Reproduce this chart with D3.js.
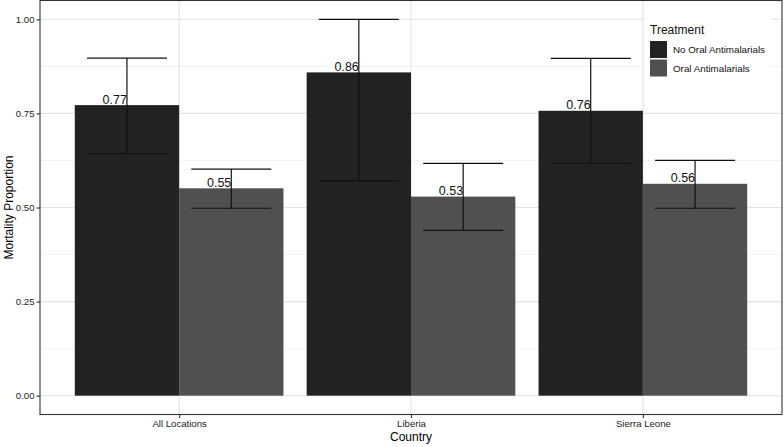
<!DOCTYPE html>
<html>
<head>
<meta charset="utf-8">
<script src="https://cdn.jsdelivr.net/npm/d3@7"></script>
<style>
  body { margin: 0; background: #fff; }
  text { font-family: "Liberation Sans", Arial, sans-serif; }
</style>
</head>
<body>
<script>
// data
var countries = ["All Locations", "Liberia", "Sierra Leone"];
var treatments = ["No Oral Antimalarials", "Oral Antimalarials"];
var noOral     = [0.772, 0.859, 0.757];
var noOralLow  = [0.643, 0.571, 0.617];
var noOralHigh = [0.897, 1.000, 0.896];
var oral       = [0.551, 0.529, 0.563];
var oralLow    = [0.498, 0.439, 0.498];
var oralHigh   = [0.602, 0.617, 0.625];
var yTicks = [0, 0.25, 0.5, 0.75, 1];
var yMinor = [0.125, 0.375, 0.625, 0.875];

// build rows
var rows = [];
countries.forEach(function(c, i) {
    rows.push({country: c, treat: treatments[0], value: noOral[i], lo: noOralLow[i], hi: noOralHigh[i]});
    rows.push({country: c, treat: treatments[1], value: oral[i], lo: oralLow[i], hi: oralHigh[i]});
});

var W = 784, H = 447;
var panel = {left: 40, top: 0.5, right: 782, bottom: 414.5};

var svg = d3.select("body").append("svg")
    .attr("width", W)
    .attr("height", H);

// scales (ggplot-ish expansion)
var x = d3.scalePoint().domain(countries).range([panel.left, panel.right]).padding(0.6);
var step = x.step();
var xInner = d3.scaleBand().domain(treatments).range([-0.45 * step, 0.45 * step]);
var y = d3.scaleLinear().domain([-0.05, 1.05]).range([panel.bottom, panel.top]);
var color = d3.scaleOrdinal().domain(treatments).range(["#222222", "#505050"]);

// grid
var grid = svg.append("g");
grid.selectAll(".minor").data(yMinor).enter().append("line")
    .attr("x1", panel.left).attr("x2", panel.right)
    .attr("y1", function(d) { return y(d); }).attr("y2", function(d) { return y(d); })
    .attr("stroke", "#ebebeb").attr("stroke-width", 0.6);
grid.selectAll(".major").data(yTicks).enter().append("line")
    .attr("x1", panel.left).attr("x2", panel.right)
    .attr("y1", function(d) { return y(d); }).attr("y2", function(d) { return y(d); })
    .attr("stroke", "#e3e3e3").attr("stroke-width", 1.1);
grid.selectAll(".vmajor").data(countries).enter().append("line")
    .attr("x1", function(d) { return x(d); }).attr("x2", function(d) { return x(d); })
    .attr("y1", panel.top).attr("y2", panel.bottom)
    .attr("stroke", "#e3e3e3").attr("stroke-width", 1.1);

// bars
svg.selectAll(".bar").data(rows).enter().append("rect")
    .attr("x", function(d) { return x(d.country) + xInner(d.treat); })
    .attr("width", xInner.bandwidth())
    .attr("y", function(d) { return y(d.value); })
    .attr("height", function(d) { return y(0) - y(d.value); })
    .attr("fill", function(d) { return color(d.treat); });

// value labels
svg.selectAll(".lab").data(rows).enter().append("text")
    .attr("x", function(d) { return x(d.country) + xInner(d.treat) + xInner.bandwidth() / 2; })
    .attr("y", function(d) { return y(d.value) - 1.5; })
    .attr("text-anchor", "end")
    .attr("font-size", "12.5px")
    .attr("fill", "#111")
    .text(function(d) { return d3.format(".2f")(d.value); });

// error bars
var ew = 0.345 * step / 2;
var eb = svg.selectAll(".err").data(rows).enter().append("g")
    .attr("stroke", "#111").attr("stroke-width", 1.2);
eb.append("line")
    .attr("x1", function(d) { return x(d.country) + xInner(d.treat) + xInner.bandwidth() / 2; })
    .attr("x2", function(d) { return x(d.country) + xInner(d.treat) + xInner.bandwidth() / 2; })
    .attr("y1", function(d) { return y(d.lo); })
    .attr("y2", function(d) { return y(d.hi); });
["lo", "hi"].forEach(function(k) {
    eb.append("line")
        .attr("x1", function(d) { return x(d.country) + xInner(d.treat) + xInner.bandwidth() / 2 - ew; })
        .attr("x2", function(d) { return x(d.country) + xInner(d.treat) + xInner.bandwidth() / 2 + ew; })
        .attr("y1", function(d) { return y(d[k]); })
        .attr("y2", function(d) { return y(d[k]); });
});

// legend (inside panel, top right)
var lg = svg.append("g").attr("transform", "translate(645,6)");
lg.append("rect").attr("width", 126).attr("height", 92).attr("fill", "#fff");
lg.append("text").attr("x", 5).attr("y", 28).attr("font-size", "12px").attr("fill", "#111").text("Treatment");
treatments.forEach(function(t, i) {
    lg.append("rect").attr("x", 5).attr("y", 35 + i * 18.5).attr("width", 17).attr("height", 17)
        .attr("fill", color(t));
    lg.append("text").attr("x", 28).attr("y", 47 + i * 18.5).attr("font-size", "9.8px").attr("fill", "#111").text(t);
});

// panel border
svg.append("rect")
    .attr("x", panel.left).attr("y", panel.top)
    .attr("width", panel.right - panel.left).attr("height", panel.bottom - panel.top)
    .attr("fill", "none").attr("stroke", "#333").attr("stroke-width", 1.1);

// axes
var yAxis = svg.append("g")
    .attr("transform", "translate(" + panel.left + ",0)")
    .call(d3.axisLeft(y).tickValues(yTicks).tickFormat(d3.format(".2f")).tickSize(3.5).tickPadding(2));
var xAxis = svg.append("g")
    .attr("transform", "translate(0," + panel.bottom + ")")
    .call(d3.axisBottom(x).tickSize(3.5).tickPadding(2));
[yAxis, xAxis].forEach(function(a) {
    a.select(".domain").remove();
    a.selectAll(".tick line").attr("stroke", "#333").attr("stroke-width", 1.1);
    a.selectAll(".tick text").attr("fill", "#222").attr("font-size", "9.6px")
        .attr("font-family", "Liberation Sans, Arial, sans-serif");
});

// axis titles
svg.append("text")
    .attr("x", (panel.left + panel.right) / 2)
    .attr("y", 441)
    .attr("text-anchor", "middle")
    .attr("font-size", "12px")
    .text("Country");
svg.append("text")
    .attr("transform", "rotate(-90)")
    .attr("x", -(panel.top + panel.bottom) / 2)
    .attr("y", 13)
    .attr("text-anchor", "middle")
    .attr("font-size", "12px")
    .text("Mortality Proportion");
</script>
</body>
</html>
